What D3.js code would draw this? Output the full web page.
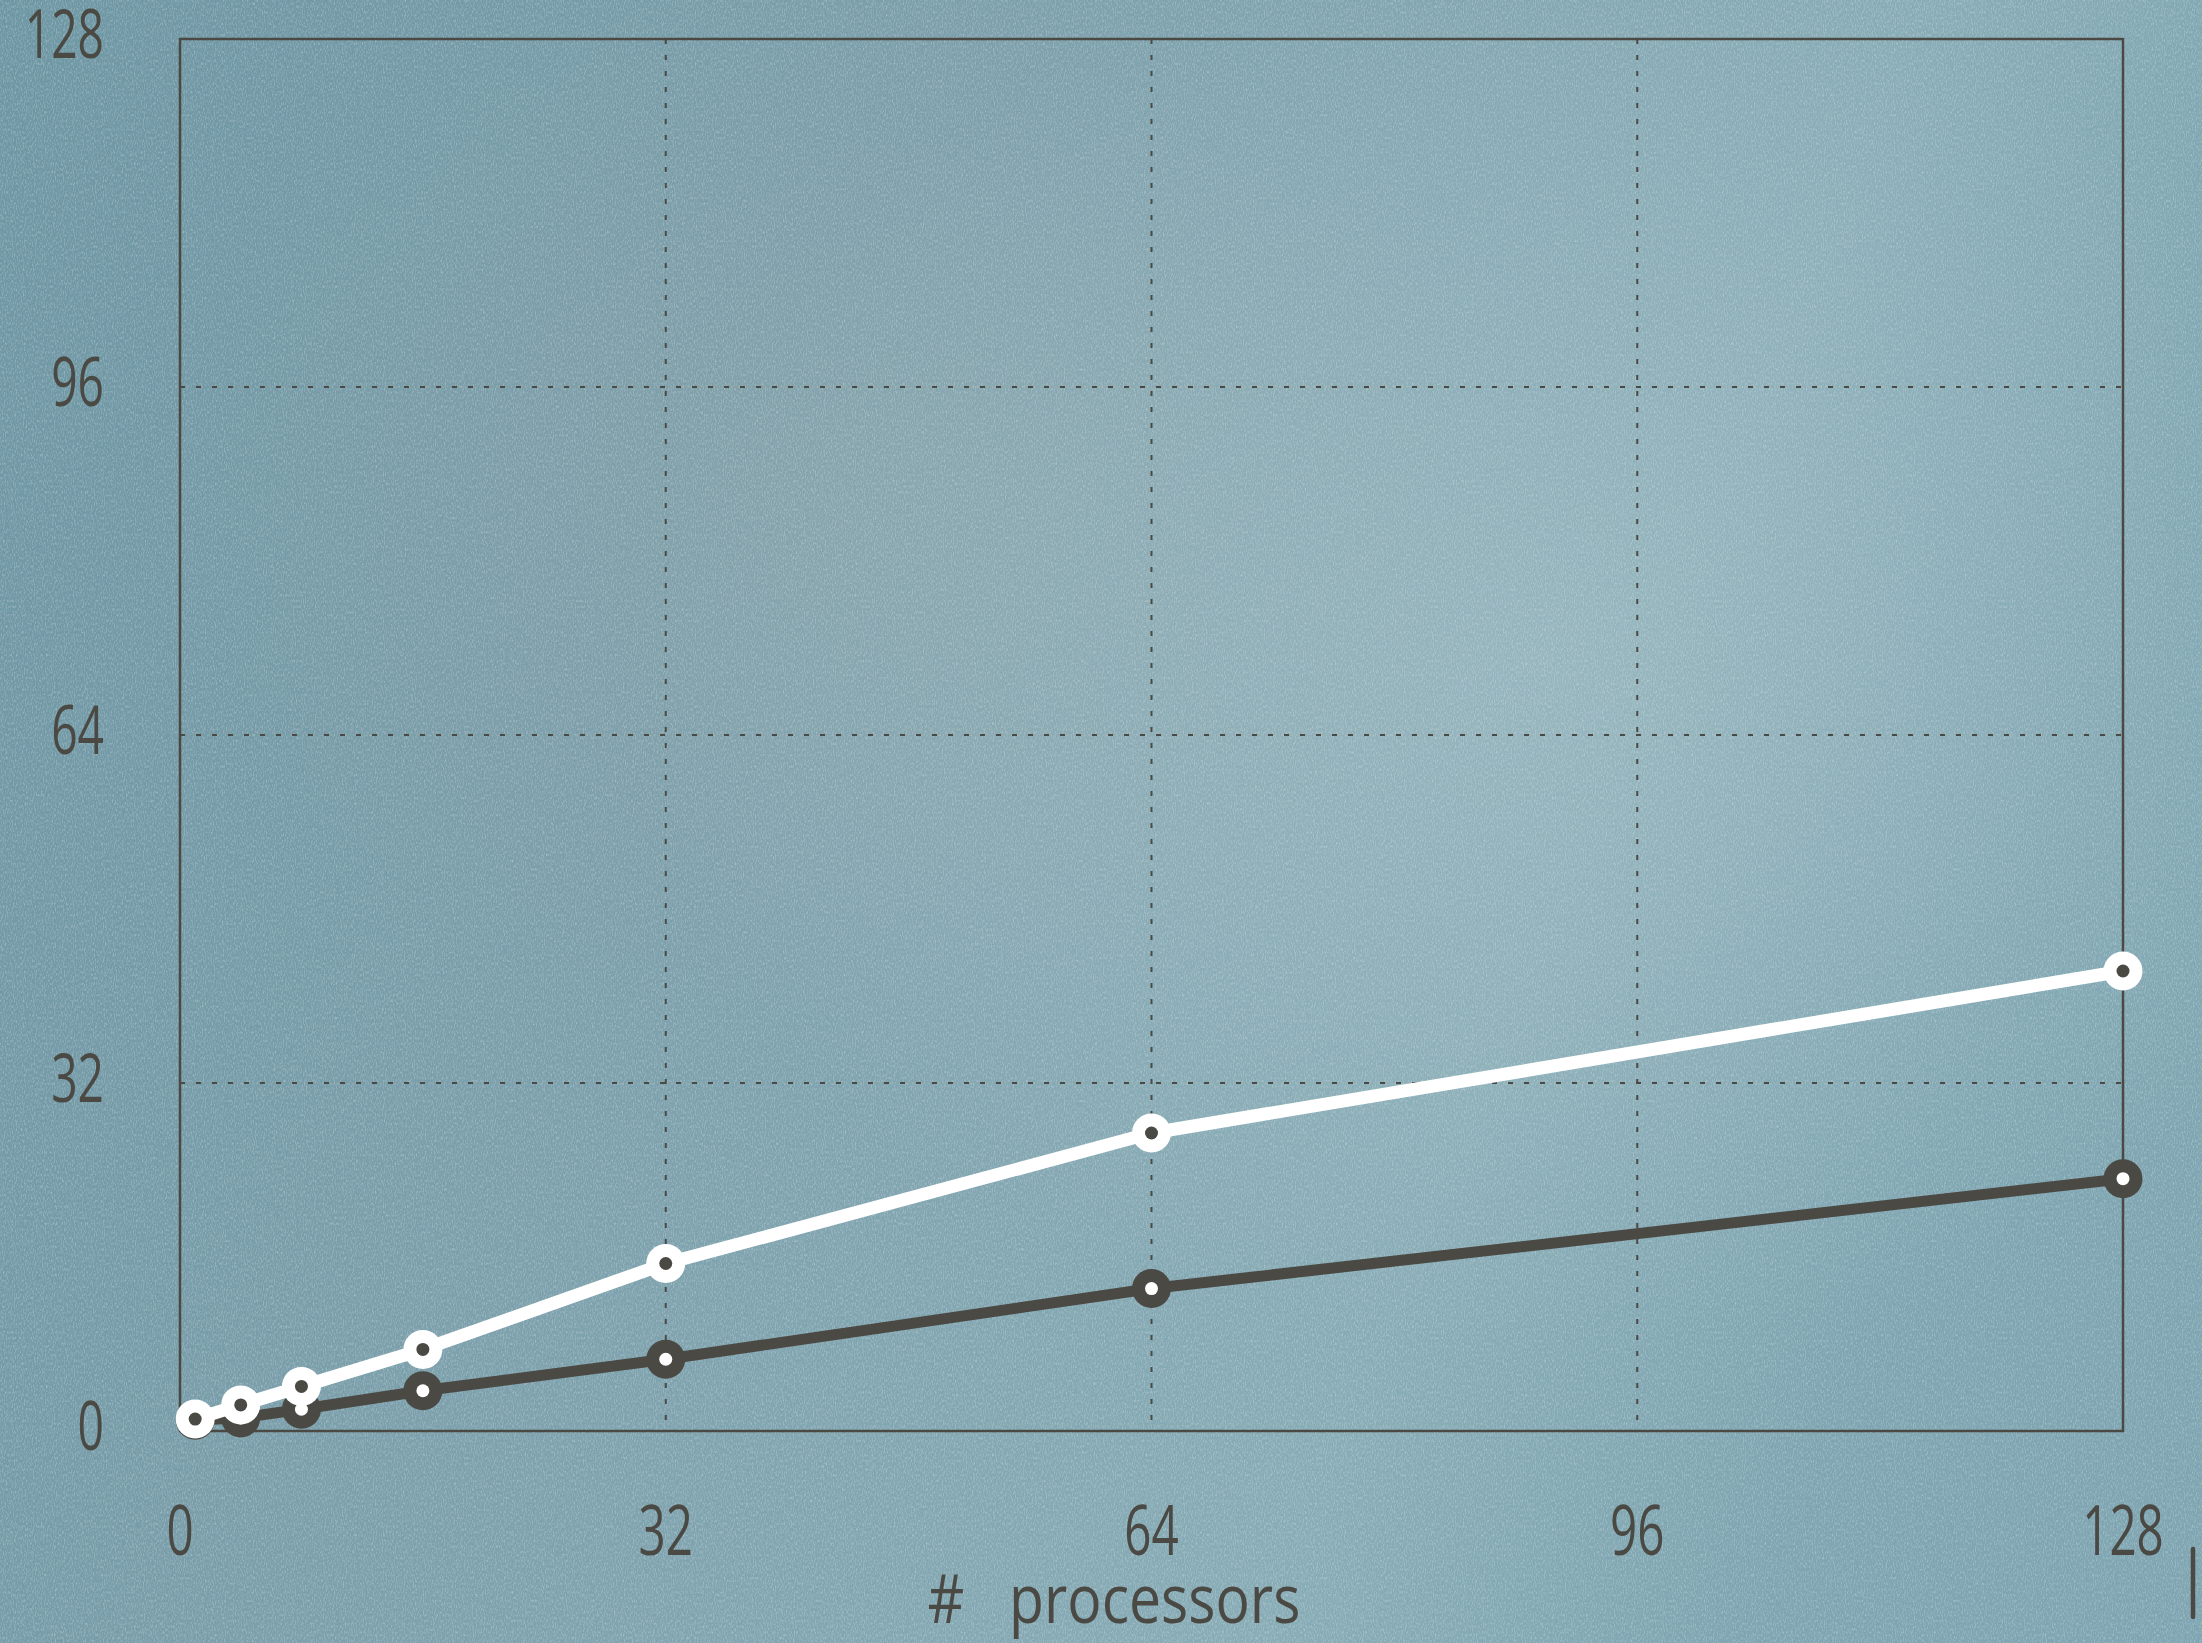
<!DOCTYPE html>
<html>
<head>
<meta charset="utf-8">
<script src="https://cdn.jsdelivr.net/npm/d3@7"></script>
<style>
  html, body { margin: 0; padding: 0; background: #7fa3ae; }
  svg { display: block; }
</style>
</head>
<body>
<script>
// Speedup vs. number of processors
const processors = [1, 4, 8, 16, 32, 64, 128];
const speedupLight = [1.1, 2.4, 4.1, 7.5, 15.4, 27.4, 42.3];
const speedupDark = [1.0, 1.2, 2.0, 3.7, 6.6, 13.1, 23.2];
const xTickValues = [0, 32, 64, 96, 128];
const yTickValues = [0, 32, 64, 96, 128];
const xTitle = "#   processors";

const W = 2202, H = 1643;
const ink = "#4b4944";

const svg = d3.select("body").append("svg")
  .attr("width", W).attr("height", H);

const defs = svg.append("defs");

// chalkboard backdrop
const base = defs.append("linearGradient").attr("id", "bgBase")
  .attr("x1", 0).attr("y1", 0).attr("x2", 1).attr("y2", 0.3);
base.append("stop").attr("offset", "0%").attr("stop-color", "#6d96a3");
base.append("stop").attr("offset", "40%").attr("stop-color", "#7b9fab");
base.append("stop").attr("offset", "80%").attr("stop-color", "#88acb6");
base.append("stop").attr("offset", "100%").attr("stop-color", "#7ea5b1");

const glow = defs.append("radialGradient").attr("id", "glow")
  .attr("cx", 0.7).attr("cy", 0.4).attr("r", 0.42);
glow.append("stop").attr("offset", "0%").attr("stop-color", "#a6c0c7").attr("stop-opacity", 0.5);
glow.append("stop").attr("offset", "100%").attr("stop-color", "#a6c0c7").attr("stop-opacity", 0);

const haze = defs.append("radialGradient").attr("id", "haze")
  .attr("cx", 0.38).attr("cy", 0.3).attr("r", 0.32);
haze.append("stop").attr("offset", "0%").attr("stop-color", "#8ea3a7").attr("stop-opacity", 0.4);
haze.append("stop").attr("offset", "100%").attr("stop-color", "#8ea3a7").attr("stop-opacity", 0);

const grain = defs.append("filter").attr("id", "grain")
  .attr("x", 0).attr("y", 0).attr("width", "100%").attr("height", "100%");
grain.append("feTurbulence").attr("type", "fractalNoise")
  .attr("baseFrequency", "0.9 0.35").attr("numOctaves", 2).attr("seed", 7);
grain.append("feColorMatrix").attr("type", "matrix")
  .attr("values", "0 0 0 0 1  0 0 0 0 1  0 0 0 0 1  0 0 0 1.6 -0.7");

svg.append("rect").attr("width", W).attr("height", H).attr("fill", "url(#bgBase)");
svg.append("rect").attr("width", W).attr("height", H).attr("fill", "url(#haze)");
svg.append("rect").attr("width", W).attr("height", H).attr("fill", "url(#glow)");
svg.append("rect").attr("width", W).attr("height", H).attr("filter", "url(#grain)").attr("opacity", 0.4);

// scales
const x = d3.scaleLinear().domain([0, 128]).range([180, 2123]);
const y = d3.scaleLinear().domain([0, 128]).range([1431, 39]);

// dotted grid
const grid = svg.append("g")
  .attr("stroke", ink).attr("stroke-width", 2).attr("stroke-dasharray", "5,11");
grid.selectAll("line.v").data(xTickValues.slice(1, -1)).join("line")
  .attr("class", "v")
  .attr("x1", d => x(d)).attr("x2", d => x(d))
  .attr("y1", y(128)).attr("y2", y(0));
grid.selectAll("line.h").data(yTickValues.slice(1, -1)).join("line")
  .attr("class", "h")
  .attr("x1", x(0)).attr("x2", x(128))
  .attr("y1", d => y(d)).attr("y2", d => y(d));

// frame
svg.append("rect")
  .attr("x", x(0)).attr("y", y(128))
  .attr("width", x(128) - x(0)).attr("height", y(0) - y(128))
  .attr("fill", "none").attr("stroke", ink).attr("stroke-width", 2.5);

// tick labels (narrow face)
const labelFont = "'Open Sans', 'DejaVu Sans', sans-serif";
const yLab = svg.append("g");
yLab.selectAll("g").data(yTickValues).join("g")
  .attr("transform", d => `translate(104,${y(d) + 19}) scale(0.68,1)`)
  .append("text")
  .attr("text-anchor", "end")
  .attr("font-family", labelFont).attr("font-weight", 400)
  .attr("font-size", 68).attr("fill", ink)
  .text(d => d);

const xLab = svg.append("g");
xLab.selectAll("g").data(xTickValues).join("g")
  .attr("transform", d => `translate(${x(d)},${1555}) scale(0.68,1)`)
  .append("text")
  .attr("text-anchor", "middle")
  .attr("font-family", labelFont).attr("font-weight", 400)
  .attr("font-size", 70).attr("fill", ink)
  .text(d => d);

svg.append("g")
  .attr("transform", `translate(1114,1623) scale(0.84,1)`)
  .append("text")
  .attr("text-anchor", "middle")
  .attr("xml:space", "preserve")
  .style("white-space", "pre")
  .attr("font-family", labelFont).attr("font-weight", 400)
  .attr("font-size", 68).attr("fill", ink)
  .text(xTitle);

// small upright bar at lower right
svg.append("line")
  .attr("x1", 2193).attr("x2", 2193).attr("y1", 1549).attr("y2", 1617)
  .attr("stroke", ink).attr("stroke-width", 4.5).attr("stroke-linecap", "round");

// series
const line = d3.line().x(d => x(d[0])).y(d => y(d[1]));

function drawSeries(values, color, innerColor, width) {
  const pts = processors.map((p, i) => [p, values[i]]);
  const g = svg.append("g");
  g.append("path").datum(pts)
    .attr("d", line)
    .attr("fill", "none").attr("stroke", color)
    .attr("stroke-width", width).attr("stroke-linejoin", "round");
  g.selectAll("circle.outer").data(pts).join("circle")
    .attr("class", "outer")
    .attr("cx", d => x(d[0])).attr("cy", d => y(d[1]))
    .attr("r", 19.5).attr("fill", color);
  g.selectAll("circle.inner").data(pts).join("circle")
    .attr("class", "inner")
    .attr("cx", d => x(d[0])).attr("cy", d => y(d[1]))
    .attr("r", 6.5).attr("fill", innerColor);
}

drawSeries(speedupDark, ink, "#ffffff", 11);
drawSeries(speedupLight, "#ffffff", ink, 13);
</script>
</body>
</html>
